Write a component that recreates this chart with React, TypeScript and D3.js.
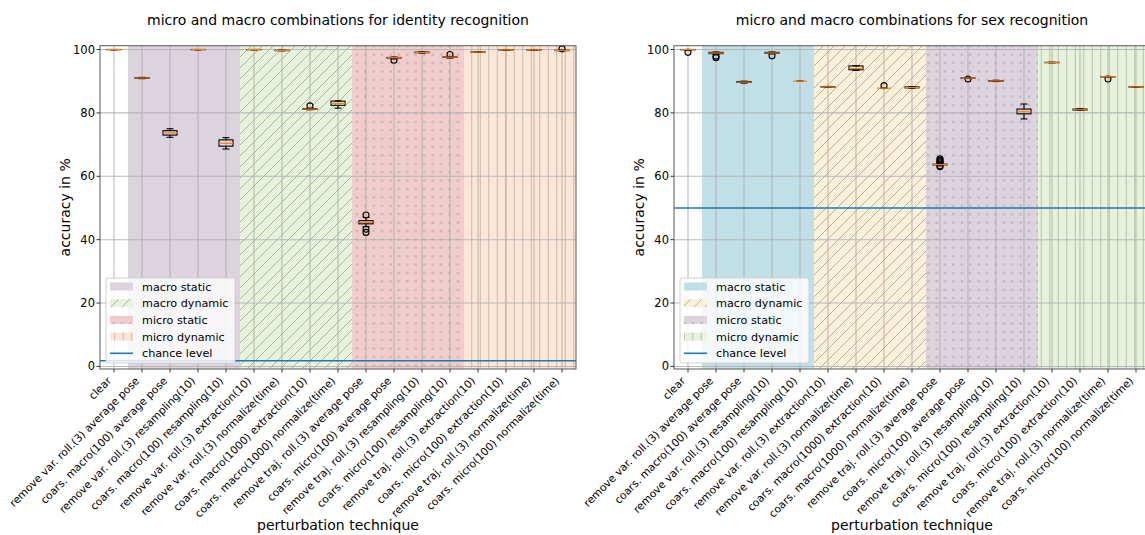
import { useRef, useEffect } from 'react';
import * as d3 from 'd3';

const categories = [
  'clear',
  'remove var. roll.(3) average pose',
  'coars. macro(100) average pose',
  'remove var. roll.(3) resampling(10)',
  'coars. macro(100) resampling(10)',
  'remove var. roll.(3) extraction(10)',
  'remove var. roll.(3) normalize(time)',
  'coars. macro(1000) extraction(10)',
  'coars. macro(1000) normalize(time)',
  'remove traj. roll.(3) average pose',
  'coars. micro(100) average pose',
  'remove traj. roll.(3) resampling(10)',
  'coars. micro(100) resampling(10)',
  'remove traj. roll.(3) extraction(10)',
  'coars. micro(100) extraction(10)',
  'remove traj. roll.(3) normalize(time)',
  'coars. micro(100) normalize(time)',
];

const groupNames = ['macro static', 'macro dynamic', 'micro static', 'micro dynamic'];
const groupFirst = [2, 6, 10, 14];
const groupLast = [5, 9, 13, 17];
const yTicks = [0, 20, 40, 60, 80, 100];

// identity recognition (box stats per technique)
const idLow = [99.9, 90.8, 72.3, 99.9, 68.6, 99.9, 99.6, 81.0, 81.5, 44.1, 97.0, 98.9, 97.3, 99.1, 99.8, 99.8, 99.6];
const idQ1 = [99.95, 90.9, 73.0, 99.95, 69.5, 99.95, 99.65, 81.1, 82.4, 45.0, 97.3, 99.0, 97.5, 99.15, 99.85, 99.85, 99.65];
const idMed = [100, 91.0, 73.7, 100, 70.4, 100, 99.7, 81.2, 83.0, 45.5, 97.4, 99.1, 97.6, 99.2, 99.9, 99.9, 99.7];
const idQ3 = [100, 91.1, 74.4, 100, 71.5, 100, 99.75, 81.35, 83.7, 46.0, 97.5, 99.2, 97.7, 99.25, 99.95, 99.95, 99.75];
const idHigh = [100, 91.2, 75.0, 100, 72.2, 100, 99.8, 81.5, 83.8, 47.0, 97.6, 99.3, 97.8, 99.3, 100, 100, 99.8];
const idOut = [[], [], [], [], [], [], [], [82.2], [], [47.8, 43.3, 42.3], [96.6], [], [98.4], [], [], [], [100.2]];
const idChance = 1.8;

// sex recognition
const sexLow = [99.8, 98.5, 89.4, 98.6, 90.0, 88.1, 93.4, 87.8, 87.8, 63.5, 90.9, 89.9, 78.1, 95.8, 80.8, 91.3, 88.1];
const sexQ1 = [99.9, 98.7, 89.6, 98.8, 90.0, 88.15, 93.6, 87.8, 87.9, 63.6, 90.95, 90.0, 79.7, 95.85, 80.9, 91.35, 88.15];
const sexMed = [100, 98.9, 89.7, 98.9, 90.0, 88.2, 94.0, 87.8, 88.0, 63.7, 91.0, 90.1, 80.4, 95.9, 81.0, 91.4, 88.2];
const sexQ3 = [100, 99.1, 89.9, 99.1, 90.0, 88.3, 94.8, 87.8, 88.2, 63.8, 91.05, 90.2, 81.2, 95.95, 81.2, 91.45, 88.25];
const sexHigh = [100, 99.2, 90.0, 99.2, 90.0, 88.35, 94.9, 87.8, 88.3, 63.9, 91.1, 90.3, 82.8, 96.0, 81.3, 91.5, 88.3];
const sexOut = [[99.1], [97.9, 97.4], [], [98.0], [], [], [], [88.6], [], [65.5, 65.1, 64.8, 64.5, 64.2, 63.3, 63.0], [90.7], [], [], [], [], [90.7], []];
const sexChance = 50;

const FONT = '"DejaVu Sans", sans-serif';
const hatchIds = [null, 'hatch-diag', 'hatch-dots', 'hatch-vert'];

type Panel = {
  left: number;
  right: number;
  title: string;
  low: number[];
  q1: number[];
  med: number[];
  q3: number[];
  high: number[];
  out: number[][];
  chance: number;
  fills: string[];
};

const TOP = 45.7;
const BOTTOM = 369;

function drawPanel(svg: any, p: Panel) {
  const x = d3.scaleLinear().domain([0.5, categories.length + 0.5]).range([p.left, p.right]);
  const y = d3.scaleLinear().domain([-0.8, 101.2]).range([BOTTOM, TOP]);
  const g = svg.append('g');

  // shaded groups
  groupNames.forEach((name, k) => {
    const x0 = x(groupFirst[k] - 0.5);
    const x1 = x(groupLast[k] + 0.5);
    g.append('rect').attr('x', x0).attr('y', TOP).attr('width', x1 - x0).attr('height', BOTTOM - TOP)
      .attr('fill', p.fills[k]);
    if (hatchIds[k]) {
      g.append('rect').attr('x', x0).attr('y', TOP).attr('width', x1 - x0).attr('height', BOTTOM - TOP)
        .attr('fill', `url(#${hatchIds[k]})`);
    }
  });

  // grid
  const grid = g.append('g').attr('stroke', '#b0b0b0').attr('stroke-width', 1.1).attr('opacity', 0.85);
  yTicks.forEach(t => {
    grid.append('line').attr('x1', p.left).attr('x2', p.right).attr('y1', y(t)).attr('y2', y(t));
  });
  categories.forEach((_, i) => {
    grid.append('line').attr('x1', x(i + 1)).attr('x2', x(i + 1)).attr('y1', TOP).attr('y2', BOTTOM);
  });

  // boxes
  categories.forEach((_, i) => {
    const cx = x(i + 1);
    const bx0 = x(i + 1 - 0.25);
    const bx1 = x(i + 1 + 0.25);
    const cw = (bx1 - bx0) / 4;
    const b = g.append('g').attr('stroke', '#000').attr('stroke-width', 1.1).attr('fill', 'none');
    b.append('line').attr('x1', cx).attr('x2', cx).attr('y1', y(p.q1[i])).attr('y2', y(p.low[i]));
    b.append('line').attr('x1', cx).attr('x2', cx).attr('y1', y(p.q3[i])).attr('y2', y(p.high[i]));
    b.append('line').attr('x1', cx - cw).attr('x2', cx + cw).attr('y1', y(p.low[i])).attr('y2', y(p.low[i]));
    b.append('line').attr('x1', cx - cw).attr('x2', cx + cw).attr('y1', y(p.high[i])).attr('y2', y(p.high[i]));
    b.append('rect').attr('x', bx0).attr('y', y(p.q3[i])).attr('width', bx1 - bx0)
      .attr('height', Math.max(0, y(p.q1[i]) - y(p.q3[i])));
    p.out[i].forEach(v => {
      b.append('circle').attr('cx', cx).attr('cy', y(v)).attr('r', 3);
    });
    g.append('line').attr('x1', bx0).attr('x2', bx1).attr('y1', y(p.med[i])).attr('y2', y(p.med[i]))
      .attr('stroke', '#ff7f0e').attr('stroke-width', 1.2);
  });

  // chance level
  g.append('line').attr('x1', p.left).attr('x2', p.right).attr('y1', y(p.chance)).attr('y2', y(p.chance))
    .attr('stroke', '#1f77b4').attr('stroke-width', 1.6);

  // frame
  g.append('rect').attr('x', p.left).attr('y', TOP).attr('width', p.right - p.left).attr('height', BOTTOM - TOP)
    .attr('fill', 'none').attr('stroke', '#666').attr('stroke-width', 1.1);

  // y ticks
  yTicks.forEach(t => {
    g.append('line').attr('x1', p.left - 3.5).attr('x2', p.left).attr('y1', y(t)).attr('y2', y(t))
      .attr('stroke', '#333').attr('stroke-width', 1);
    g.append('text').attr('x', p.left - 5).attr('y', y(t) + 4).attr('text-anchor', 'end')
      .attr('font-size', 11.5).attr('fill', '#000').text(String(t));
  });

  // x ticks + rotated labels
  categories.forEach((c, i) => {
    const cx = x(i + 1);
    g.append('line').attr('x1', cx).attr('x2', cx).attr('y1', BOTTOM).attr('y2', BOTTOM + 3.5)
      .attr('stroke', '#333').attr('stroke-width', 1);
    g.append('text').attr('transform', `translate(${cx - 2},${BOTTOM + 12.5}) rotate(-45)`)
      .attr('text-anchor', 'end').attr('font-size', 10.7).attr('fill', '#000').text(c);
  });

  const mid = (p.left + p.right) / 2;
  g.append('text').attr('x', mid).attr('y', 25).attr('text-anchor', 'middle').attr('font-size', 14)
    .text(p.title);
  g.append('text').attr('x', mid).attr('y', 530).attr('text-anchor', 'middle').attr('font-size', 14)
    .text('perturbation technique');
  g.append('text').attr('transform', `translate(${p.left - 30},${(TOP + BOTTOM) / 2}) rotate(-90)`)
    .attr('text-anchor', 'middle').attr('font-size', 14).text('accuracy in %');

  // legend
  const lx = p.left + 6;
  const ly = 278;
  const leg = g.append('g');
  leg.append('rect').attr('x', lx).attr('y', ly).attr('width', 129).attr('height', 85).attr('rx', 2)
    .attr('fill', '#fff').attr('fill-opacity', 0.8).attr('stroke', '#d0d0d0').attr('stroke-width', 1);
  const rowY = (k: number) => ly + 8.5 + k * 16.7;
  groupNames.forEach((name, k) => {
    const cy = rowY(k);
    leg.append('rect').attr('x', lx + 4).attr('y', cy - 4).attr('width', 23).attr('height', 8).attr('fill', p.fills[k]);
    if (hatchIds[k]) {
      leg.append('rect').attr('x', lx + 4).attr('y', cy - 4).attr('width', 23).attr('height', 8)
        .attr('fill', `url(#${hatchIds[k]})`);
    }
    leg.append('text').attr('x', lx + 36).attr('y', cy + 4).attr('font-size', 11.2).text(name);
  });
  const cy = rowY(4);
  leg.append('line').attr('x1', lx + 4).attr('x2', lx + 27).attr('y1', cy).attr('y2', cy)
    .attr('stroke', '#1f77b4').attr('stroke-width', 1.6);
  leg.append('text').attr('x', lx + 36).attr('y', cy + 4).attr('font-size', 11.2).text('chance level');
}

const App = () => {
  const svgRef = useRef<SVGSVGElement>(null);

  useEffect(() => {
    if (!svgRef.current) return;
    const svg = d3.select(svgRef.current);
    svg.selectAll('*').remove();
    svg.attr('font-family', FONT);

    const defs = svg.append('defs');
    const diag = defs.append('pattern').attr('id', 'hatch-diag').attr('patternUnits', 'userSpaceOnUse')
      .attr('width', 11).attr('height', 11);
    diag.append('path').attr('d', 'M0,11 L11,0 M-2,2 L2,-2 M9,13 L13,9')
      .attr('stroke', '#999').attr('stroke-width', 0.9).attr('opacity', 0.8);
    const dots = defs.append('pattern').attr('id', 'hatch-dots').attr('patternUnits', 'userSpaceOnUse')
      .attr('width', 8.4).attr('height', 8.4);
    dots.append('circle').attr('cx', 4.2).attr('cy', 4.2).attr('r', 1.2).attr('fill', '#a0a0a0').attr('opacity', 0.6);
    const vert = defs.append('pattern').attr('id', 'hatch-vert').attr('patternUnits', 'userSpaceOnUse')
      .attr('width', 8.5).attr('height', 8.5);
    vert.append('line').attr('x1', 4.25).attr('x2', 4.25).attr('y1', 0).attr('y2', 8.5)
      .attr('stroke', '#a0a0a0').attr('stroke-width', 0.9).attr('opacity', 0.7);

    drawPanel(svg, {
      left: 100, right: 576,
      title: 'micro and macro combinations for identity recognition',
      low: idLow, q1: idQ1, med: idMed, q3: idQ3, high: idHigh, out: idOut,
      chance: idChance,
      fills: ['#dcd3df', '#e6f2da', '#f0cdcc', '#fde6d6'],
    });
    drawPanel(svg, {
      left: 674, right: 1150,
      title: 'micro and macro combinations for sex recognition',
      low: sexLow, q1: sexQ1, med: sexMed, q3: sexQ3, high: sexHigh, out: sexOut,
      chance: sexChance,
      fills: ['#c0dfe6', '#fcf0d8', '#dcd3df', '#e6f2da'],
    });

    return () => { svg.selectAll('*').remove(); };
  }, []);

  return (
    <svg ref={svgRef} width={1145} height={535}
      style={{ position: 'absolute', left: 0, top: 0, background: '#fff' }} />
  );
};

export default App;
